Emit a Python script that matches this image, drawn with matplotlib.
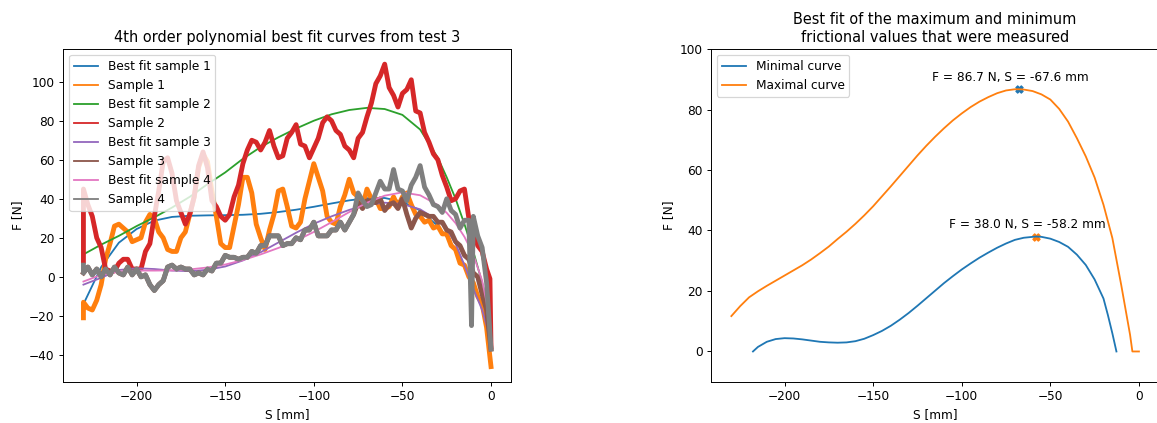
import numpy as np
import matplotlib
matplotlib.use("Agg")
import matplotlib.pyplot as plt

# Rohdaten-Raster fuer die Proben
S_GRID = np.arange(-230, 0.01, 2.5)

SAMPLE1_F = [-13, -16, -17, -12, -4, 9, 17, 26, 27, 25,
             23, 18, 19, 20, 28, 32, 30, 23, 20, 14,
             13, 13, 20, 23, 32, 41, 56, 63, 59, 44,
             31, 17, 15, 15, 26, 37, 51, 51, 43, 27,
             20, 14, 24, 32, 44, 45, 36, 26, 25, 28,
             40, 49, 58, 51, 44, 31, 28, 27, 36, 42,
             50, 43, 41, 36, 45, 40, 40, 35, 35, 36,
             41, 36, 41, 43, 37, 32, 31, 28, 29, 25,
             26, 22, 22, 16, 14, 7, 6, 0, -3, -10,
             -14, -26, -46]
SAMPLE1_EXTRA_S = [-230]
SAMPLE1_EXTRA_F = [-21]

SAMPLE2_F = [45, 37, 31, 20, 15, 4, 3, 3, 7, 9,
             9, 4, 4, 4, 13, 17, 31, 44, 59, 61,
             53, 39, 33, 27, 32, 41, 57, 64, 56, 39,
             36, 31, 29, 32, 41, 47, 58, 65, 70, 69,
             65, 69, 75, 67, 61, 62, 71, 74, 78, 68,
             67, 61, 66, 71, 79, 82, 80, 75, 73, 67,
             65, 61, 71, 74, 82, 89, 99, 103, 109, 97,
             93, 87, 94, 96, 101, 85, 84, 74, 69, 63,
             60, 52, 46, 39, 40, 44, 45, 30, 24, 16,
             13, 4, -36]
SAMPLE2_EXTRA_S = [-230, -0.6]
SAMPLE2_EXTRA_F = [8, -1]

SAMPLE4_F = [2, 5, 1, 4, 0, 4, 1, 5, 2, 1,
             5, 1, 4, 0, 1, -4, -7, -4, -2, 5,
             6, 4, 5, 4, 4, 1, 2, 1, 4, 3,
             7, 7, 11, 10, 10, 9, 10, 10, 13, 12,
             16, 16, 21, 21, 21, 16, 17, 17, 20, 19,
             24, 24, 28, 21, 21, 21, 24, 24, 28, 24,
             28, 32, 43, 39, 36, 37, 43, 49, 45, 45,
             55, 45, 44, 39, 47, 51, 57, 46, 42, 37,
             36, 33, 40, 34, 32, 25, 29, 29, 31, 21,
             15, -3, -37]
SAMPLE4_EXTRA_S = [-230, -11]
SAMPLE4_EXTRA_F = [6, -25]

# Probe 3 liegt bis ca. -75 mm unter Probe 4, danach eigener Verlauf
SAMPLE3_TAIL = [38, 35, 39, 39, 38, 40, 34, 37, 38, 35,
                40, 32, 25, 30, 33, 32, 31, 31, 28, 28,
                24, 23, 18, 16, 11, 9, 2, 0, -9, -17, -37]
SAMPLE3_F = SAMPLE4_F[:62] + SAMPLE3_TAIL

# Ausgleichskurven (4. Ordnung)
FIT_S = [-230, -220, -210, -200, -190, -180, -170, -160, -150, -140,
         -130, -120, -110, -100, -90, -80, -70, -60, -50, -40,
         -30, -25, -20, -15, -10, -5, -2.5, 0]
FIT1_F = [-14, 5, 17.5, 24.5, 28.8, 30.7, 31.3, 31.5, 31.6, 31.8,
          32.3, 33.2, 34.4, 35.9, 37.6, 39.2, 40.3, 40.4, 38.5, 34,
          26, 20.5, 14, 6, -4, -16, -24, -33]
FIT2_F = [11.5, 16.5, 21, 26, 30.5, 35.5, 41, 47.5, 53.5, 60.5,
          66.5, 71.5, 76, 80, 83.3, 85.5, 86.6, 86, 83, 75.5,
          61, 51, 40, 27, 13, -3, -13, -28]
FIT3_F = [-4, -0.5, 3.5, 4.4, 4, 3.2, 2.9, 3.6, 5.3, 8.4,
          12.6, 17.6, 22.6, 27.2, 31, 34.3, 36.9, 38, 37.3, 34.6,
          29, 24.5, 17, 6, -6, -17, -25, -34]
FIT4_F = [-2.4, 1, 2.7, 3.2, 3.2, 3.3, 3.8, 4.8, 6.3, 8.6,
          11.5, 14.8, 18.5, 23, 28, 33.2, 38, 41.6, 43.3, 41.8,
          36.8, 32.8, 27.5, 20.5, 11.5, -2, -13, -36]

# Rechter Plot: minimale / maximale Kurve
MIN_S = [-217.8, -215, -210, -205, -200, -195, -190, -185, -180, -175,
         -170, -165, -160, -155, -150, -145, -140, -135, -130, -125,
         -120, -115, -110, -105, -100, -95, -90, -85, -80, -75,
         -70, -65, -58.2, -55, -50, -45, -40, -35, -30, -25,
         -20, -17.5, -15, -12.7]
MIN_F = [0, 1.5, 3.2, 4.1, 4.4, 4.3, 4, 3.6, 3.2, 3,
         2.9, 3, 3.4, 4.2, 5.4, 6.8, 8.5, 10.5, 12.7, 15.1,
         17.6, 20.1, 22.6, 24.9, 27.1, 29.1, 31, 32.7, 34.3, 35.7,
         36.9, 37.6, 38, 37.9, 37.3, 36.2, 34.6, 32, 28.6, 23.8,
         17.5, 12, 6, 0]
MAX_S = [-230, -225, -220, -215, -210, -205, -200, -195, -190, -185,
         -180, -175, -170, -165, -160, -155, -150, -145, -140, -135,
         -130, -125, -120, -115, -110, -105, -100, -95, -90, -85,
         -80, -75, -70, -67.6, -65, -60, -55, -50, -45, -40,
         -35, -30, -25, -20, -15, -10, -5, -3.7, 0]
MAX_F = [11.7, 15, 17.9, 19.9, 21.7, 23.4, 25.1, 26.8, 28.5, 30.4,
         32.5, 34.7, 37.2, 39.6, 42.2, 45, 48, 51.3, 54.6, 58,
         61.4, 64.8, 68, 71, 73.8, 76.4, 78.7, 80.8, 82.6, 84.1,
         85.4, 86.3, 86.7, 86.7, 86.6, 86.1, 85, 83.3, 80.2, 76,
         70.5, 64.5, 57.5, 48.5, 37.5, 22, 5.5, 0, 0]

PEAK_MAX = (-67.6, 86.7)
PEAK_MIN = (-58.2, 38.0)


def with_extra(f_grid, extra_s, extra_f):
    """Rasterwerte und Zusatzpunkte zusammenfuehren (nach S sortiert)"""
    s = np.concatenate([extra_s, S_GRID])
    f = np.concatenate([extra_f, f_grid])
    order = np.argsort(s, kind="stable")
    return s[order], f[order]


DPI = 87
fig = plt.figure(figsize=(1157 / DPI, 423 / DPI), dpi=DPI)
ax1 = fig.add_axes([0.0545, 0.0976, 0.3875, 0.7865])
ax2 = fig.add_axes([0.6145, 0.0976, 0.3875, 0.7865])

samples = [
    with_extra(SAMPLE1_F, SAMPLE1_EXTRA_S, SAMPLE1_EXTRA_F),
    with_extra(SAMPLE2_F, SAMPLE2_EXTRA_S, SAMPLE2_EXTRA_F),
    (S_GRID, np.array(SAMPLE3_F)),
    with_extra(SAMPLE4_F, SAMPLE4_EXTRA_S, SAMPLE4_EXTRA_F),
]
fits = [FIT1_F, FIT2_F, FIT3_F, FIT4_F]

for i, (fit, (s, f)) in enumerate(zip(fits, samples)):
    ax1.plot(FIT_S, fit, label=f"Best fit sample {i + 1}")
    ax1.plot(s, f, label=f"Sample {i + 1}", linewidth=4)

ax1.set_title("4th order polynomial best fit curves from test 3")
ax1.set_xlabel("S [mm]")
ax1.set_ylabel("F [N]")
leg = ax1.legend(loc="upper left")
for line in leg.get_lines():
    line.set_linewidth(1.5)

# rechter Plot
ax2.plot(MIN_S, MIN_F, label="Minimal curve")
ax2.plot(MAX_S, MAX_F, label="Maximal curve")
ax2.scatter(*PEAK_MAX, marker="X", color="C0")
ax2.scatter(*PEAK_MIN, marker="X", color="C1")
for s, f in (PEAK_MAX, PEAK_MIN):
    ax2.text(s - 5, f + 4, f"F = {f:.1f} N, S = {s:.1f} mm",
             ha="center", va="center")
ax2.set_ylim(-10, 100)
ax2.set_title("Best fit of the maximum and minimum\nfrictional values that were measured")
ax2.set_xlabel("S [mm]")
ax2.set_ylabel("F [N]")
ax2.legend(loc="upper left")

fig.savefig("out.png", dpi=DPI)
